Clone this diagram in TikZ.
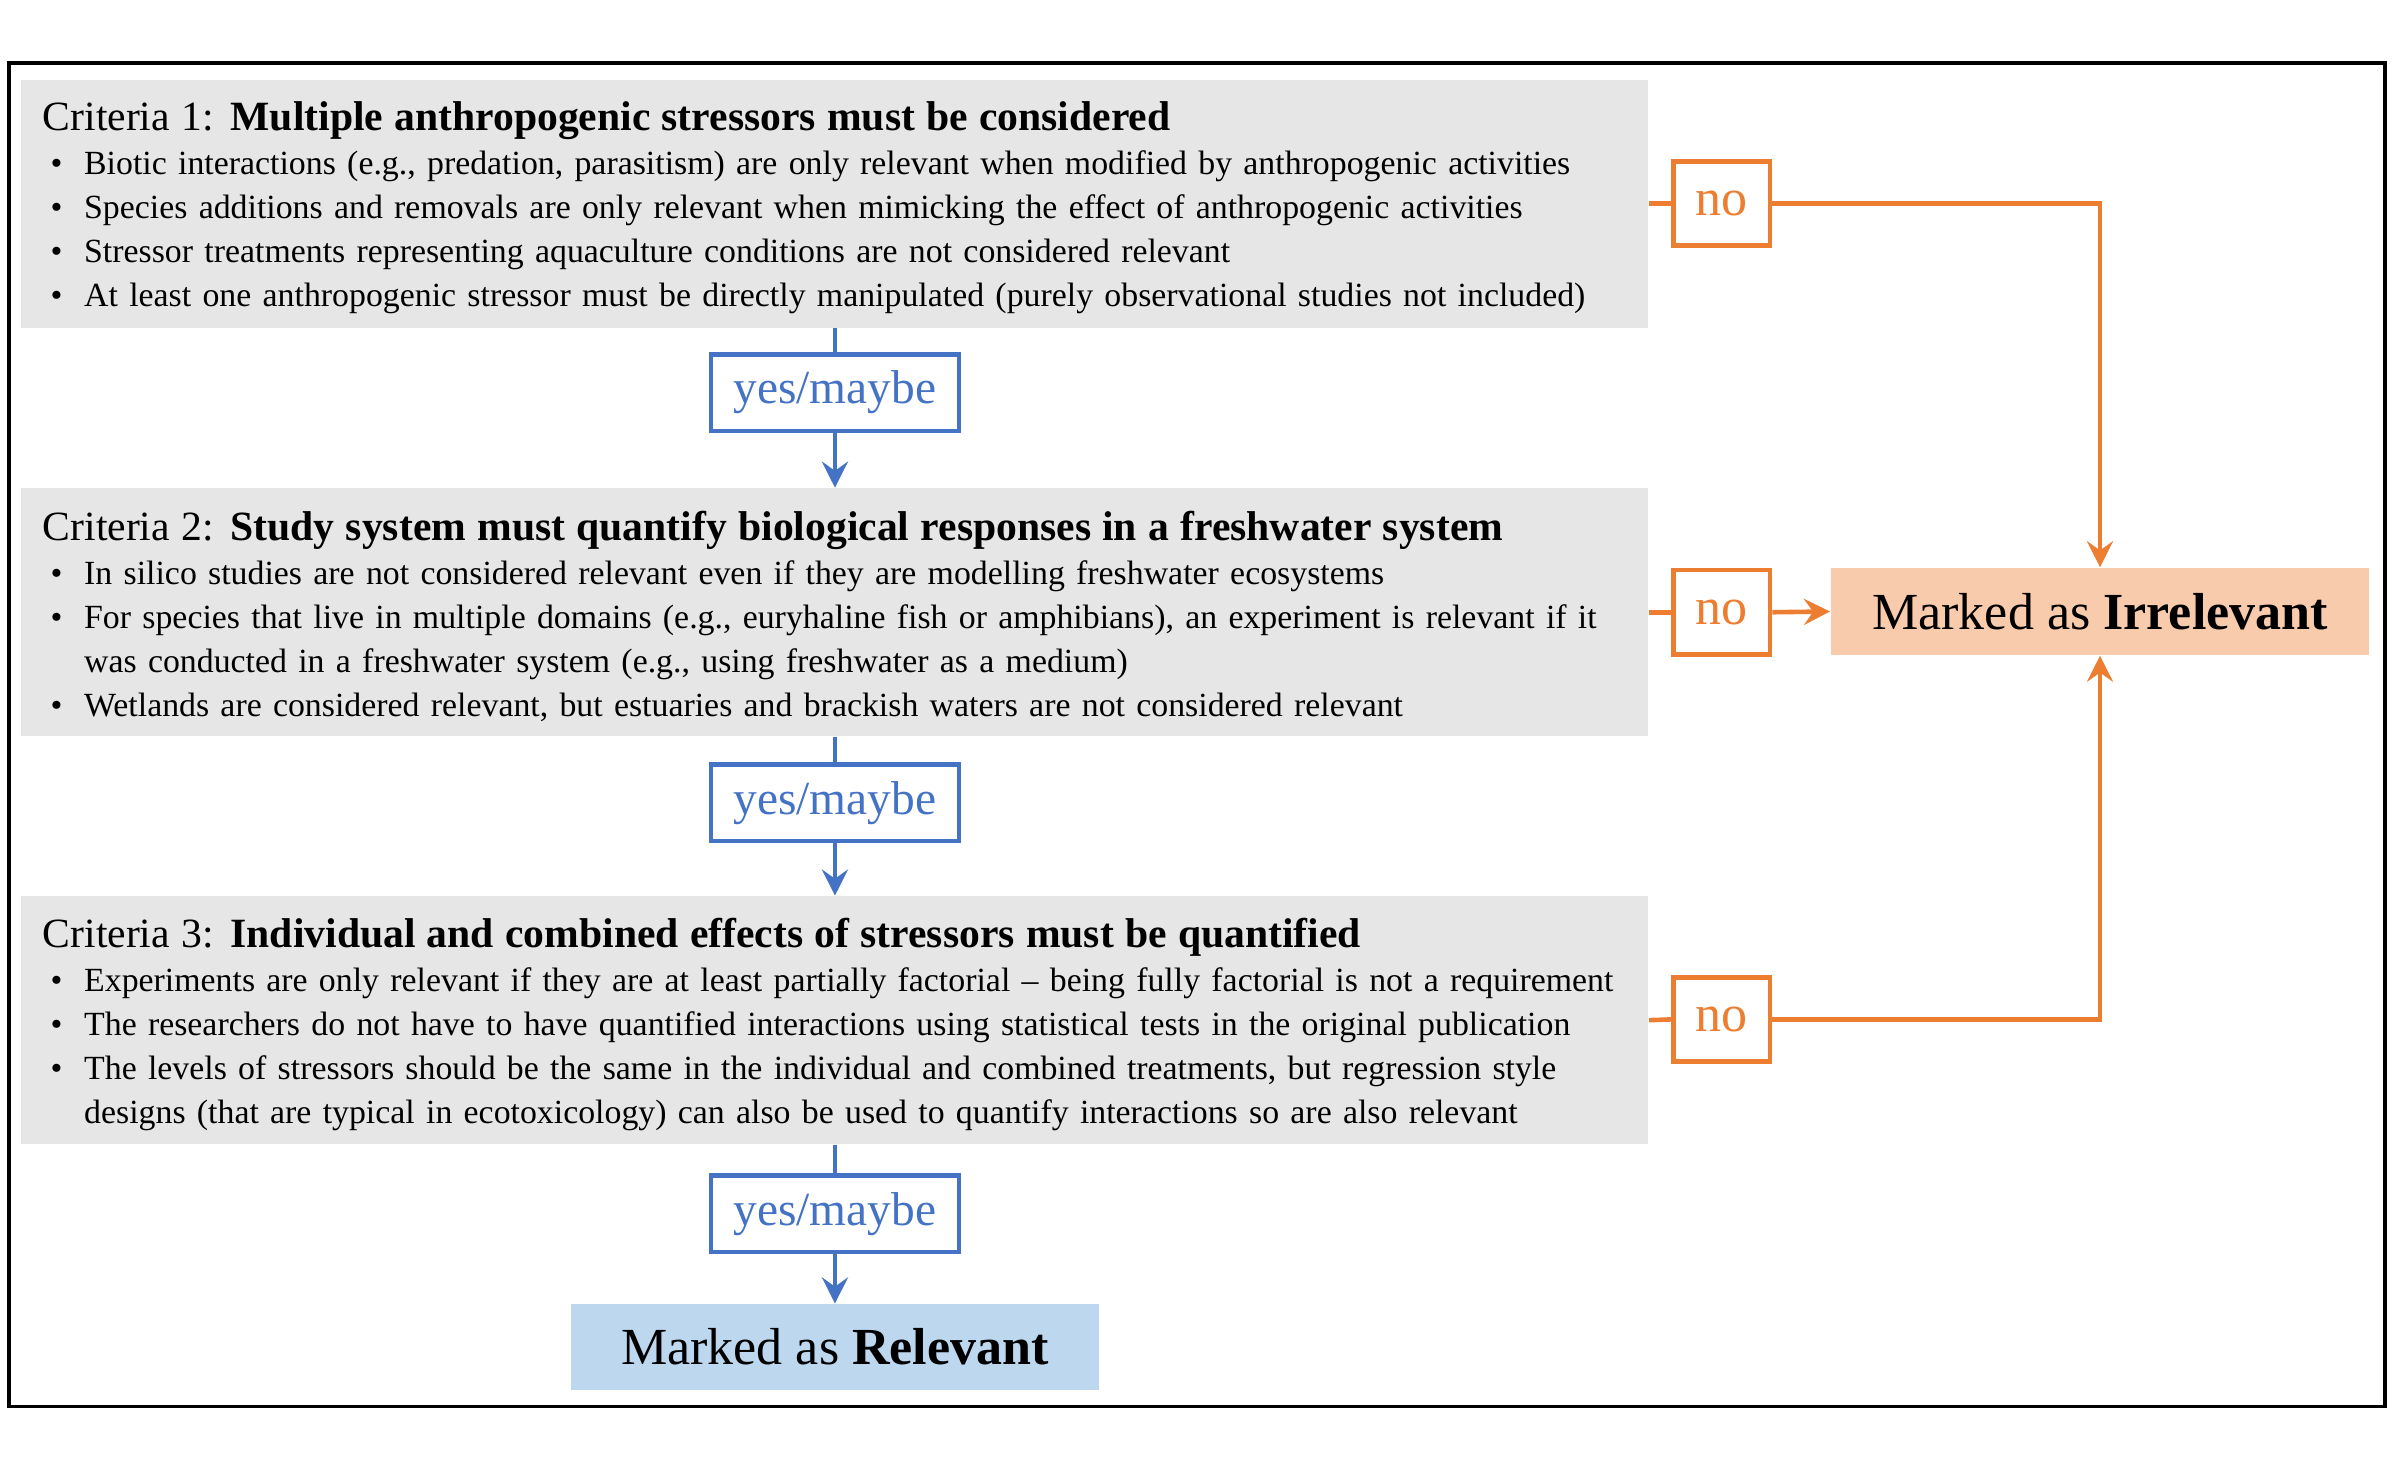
\documentclass[tikz,border=0pt]{standalone}
\usepackage{fontspec}
\setmainfont{Liberation Serif}
\usetikzlibrary{arrows.meta}
\definecolor{critgray}{HTML}{E6E6E6}
\definecolor{yesblue}{HTML}{4472C4}
\definecolor{noorange}{HTML}{ED7D31}
\definecolor{irrfill}{HTML}{F8CBAD}
\definecolor{relfill}{HTML}{BDD7EE}
\newcommand{\crittitle}[2]{{\fontsize{13.6}{14.35}\selectfont\rule{0pt}{12.3pt}Criteria #1: \textbf{#2}}\par}
\newcommand{\critpoint}{\par\noindent\hangindent=13.5pt\hangafter=1\makebox[13.5pt][l]{\hspace{2.5pt}\textbullet}}
\begin{document}
\begin{tikzpicture}[x=0.5pt,y=-0.5pt,
    >={Stealth[length=8.5pt,width=8.5pt,inset=3pt]},
    critbox/.style={fill=critgray, minimum width=531.5pt, minimum height=81pt,
      text width=517.5pt, inner xsep=7pt, inner ysep=2pt, align=left,
      font=\fontsize{11.05}{14.35}\selectfont},
    yesbox/.style={draw=yesblue, line width=1.5pt, text=yesblue, fill=white,
      minimum width=81pt, minimum height=25pt, inner sep=0pt,
      font=\fontsize{15.5}{18}\selectfont},
    nobox/.style={draw=noorange, line width=1.5pt, text=noorange, fill=white,
      minimum width=31.5pt, minimum height=27.5pt, inner sep=0pt,
      font=\fontsize{17}{18}\selectfont},
    yesline/.style={draw=yesblue, line width=1.5pt},
    noline/.style={draw=noorange, line width=1.5pt}]
  \useasboundingbox (0,0) rectangle (1568,952);
  \draw[line width=1.2pt] (6,41) rectangle (1558,919);

  % criteria
  \node[critbox] (crit1) at (545.5,133) {%
    \crittitle{1}{Multiple anthropogenic stressors must be considered}
    \critpoint Biotic interactions (e.g., predation, parasitism) are only relevant when modified by anthropogenic activities
    \critpoint Species additions and removals are only relevant when mimicking the effect of anthropogenic activities
    \critpoint Stressor treatments representing aquaculture conditions are not considered relevant
    \critpoint At least one anthropogenic stressor must be directly manipulated (purely observational studies not included)\par};
  \node[critbox] (crit2) at (545.5,400) {%
    \crittitle{2}{Study system must quantify biological responses in a freshwater system}
    \critpoint In silico studies are not considered relevant even if they are modelling freshwater ecosystems
    \critpoint For species that live in multiple domains (e.g., euryhaline fish or amphibians), an experiment is relevant if it\newline was conducted in a freshwater system (e.g., using freshwater as a medium)
    \critpoint Wetlands are considered relevant, but estuaries and brackish waters are not considered relevant\par};
  \node[critbox] (crit3) at (545.5,666.5) {%
    \crittitle{3}{Individual and combined effects of stressors must be quantified}
    \critpoint Experiments are only relevant if they are at least partially factorial -- being fully factorial is not a requirement
    \critpoint The researchers do not have to have quantified interactions using statistical tests in the original publication
    \critpoint The levels of stressors should be the same in the individual and combined treatments, but regression style\newline designs (that are typical in ecotoxicology) can also be used to quantify interactions so are also relevant\par};

  % answers
  \node[yesbox] (yes1) at (545.5,256.5) {yes/maybe};
  \node[yesbox] (yes2) at (545.5,524.5) {yes/maybe};
  \node[yesbox] (yes3) at (545.5,793) {yes/maybe};
  \node[nobox] (no1) at (1125,133) {no};
  \node[nobox] (no2) at (1125,400) {no};
  \node[nobox] (no3) at (1125,666) {no};

  % outcomes
  \node[fill=relfill, minimum width=172.5pt, minimum height=28pt, inner sep=0pt,
    font=\fontsize{17}{20}\selectfont] (rel) at (545.5,880) {Marked as \textbf{Relevant}};
  \node[fill=irrfill, minimum width=176pt, minimum height=28.5pt, inner sep=0pt,
    font=\fontsize{17}{20}\selectfont] (irr) at (1372,399.5) {Marked as \textbf{Irrelevant}};

  \draw[yesline] (crit1.south) -- (yes1.north);
  \draw[yesline,->] (yes1.south) -- (crit2.north);
  \draw[yesline] (crit2.south) -- (yes2.north);
  \draw[yesline,->] (yes2.south) -- (crit3.north);
  \draw[yesline] (crit3.south) -- (yes3.north);
  \draw[yesline,->] (yes3.south) -- (rel.north);

  \draw[noline] (crit1.east) -- (no1.west);
  \draw[noline,->] (no1.east) -| (irr.north);
  \draw[noline] (crit2.east) -- (no2.west);
  \draw[noline,->] (no2.east) -- (irr.west);
  \draw[noline] (crit3.east) -- (no3.west);
  \draw[noline,->] (no3.east) -| (irr.south);
\end{tikzpicture}
\end{document}
